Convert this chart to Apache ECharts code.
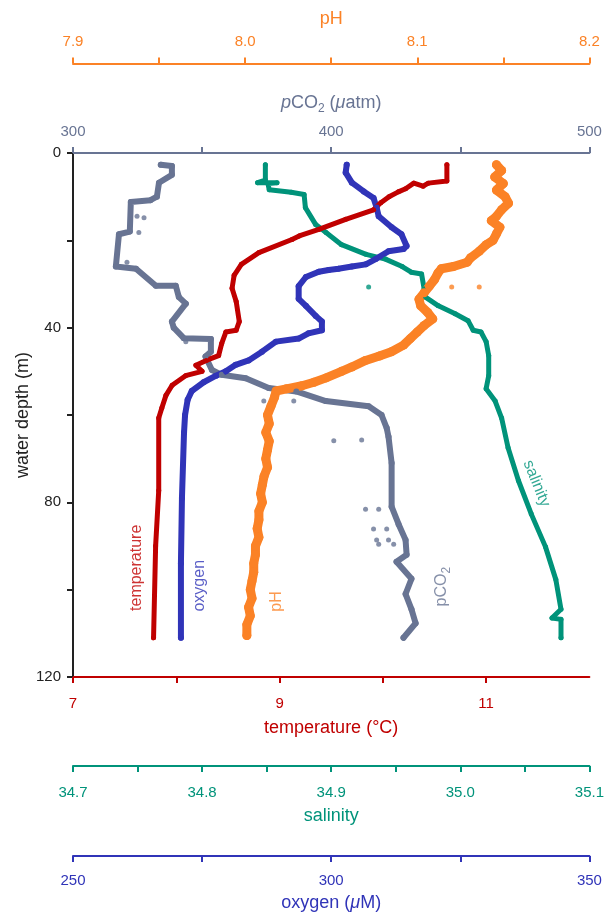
<!DOCTYPE html>
<html><head><meta charset="utf-8">
<script src="https://cdn.jsdelivr.net/npm/echarts@6/dist/echarts.min.js"></script>
<style>html,body{margin:0;padding:0;background:#fff;overflow:hidden}#c{width:607px;height:917px}</style>
</head><body><div id="c"></div>
<script>
// ---------- tick labels ----------
const depthTicks = [0, 40, 80, 120];
const pHTicks = [7.9, 8.0, 8.1, 8.2];
const pco2Ticks = [300, 400, 500];
const tempTicks = [7, 9, 11];
const tempMinorTicks = [7, 8, 9, 10, 11];
const salTicks = [34.7, 34.8, 34.9, 35.0, 35.1];
const oxyTicks = [250, 300, 350];

// ---------- temperature (°C) ----------
const tempDepth = [2.7, 6.4, 6.9, 7.6, 6.9, 8.2, 8.9, 10.0, 11.4, 13.0, 15.2, 17.5, 19.0, 19.8, 22.8, 25.5, 28.0, 31.0, 34.0, 38.6, 40.6, 41.0, 43.6, 46.4, 47.5, 48.6, 50.0, 51.0, 53.2, 55.5, 58.4, 60.7, 77.3, 90.0, 111.0];
const tempValue = [10.62, 10.62, 10.44, 10.39, 10.30, 10.22, 10.15, 10.06, 9.98, 9.91, 9.64, 9.38, 9.19, 9.12, 8.80, 8.63, 8.56, 8.54, 8.58, 8.61, 8.58, 8.48, 8.44, 8.41, 8.29, 8.19, 8.25, 8.09, 7.96, 7.90, 7.86, 7.83, 7.83, 7.80, 7.78];

// ---------- oxygen (µM) ----------
const oxyDepth = [2.7, 4.5, 6.8, 8.8, 10.3, 12.5, 14.5, 17.0, 18.6, 21.3, 22.0, 22.5, 24.3, 25.5, 26.0, 26.5, 26.8, 27.2, 28.4, 30.5, 33.4, 35.0, 37.3, 38.6, 40.6, 41.3, 42.5, 43.2, 45.5, 47.5, 48.5, 50.0, 51.0, 52.5, 54.5, 56.5, 60.0, 64.0, 79.0, 94.0, 111.0];
const oxyValue = [303.0, 302.8, 304.0, 306.3, 308.2, 308.8, 309.2, 311.7, 313.6, 314.6, 314.0, 311.1, 308.6, 306.7, 304.0, 301.4, 299.5, 297.6, 295.1, 293.7, 293.7, 295.1, 297.0, 298.2, 298.2, 295.6, 293.7, 289.3, 286.6, 284.0, 281.5, 279.6, 277.7, 275.3, 273.0, 272.2, 271.7, 271.5, 271.1, 270.9, 270.9];

// ---------- pH ----------
const pHDepth = [2.7, 4, 5.5, 7, 8.5, 10, 11.5, 13, 14.5, 15.5, 17, 18.5, 20, 21, 22.5, 24, 25, 26, 26.5, 27.5, 29, 30.5, 32, 33.5, 35, 36.5, 38, 39.5, 41, 42.5, 44, 45.5, 46.5, 47.5, 49, 50, 51.5, 52.5, 53.3, 54, 54.5, 56, 58, 60, 62, 64, 66, 68, 70, 72, 74, 76, 78, 80, 82, 84, 86, 88, 90, 92, 94, 96, 98, 100, 102, 104, 106, 108, 110.5];
const pHValue = [8.146, 8.149, 8.145, 8.150, 8.146, 8.151, 8.153, 8.149, 8.146, 8.143, 8.148, 8.146, 8.144, 8.140, 8.136, 8.131, 8.129, 8.121, 8.114, 8.112, 8.110, 8.107, 8.104, 8.101, 8.102, 8.106, 8.109, 8.104, 8.100, 8.096, 8.092, 8.085, 8.078, 8.070, 8.062, 8.056, 8.047, 8.040, 8.033, 8.024, 8.018, 8.017, 8.015, 8.013, 8.014, 8.012, 8.014, 8.013, 8.012, 8.013, 8.011, 8.010, 8.009, 8.010, 8.008, 8.008, 8.007, 8.008, 8.006, 8.006, 8.005, 8.005, 8.004, 8.003, 8.004, 8.002, 8.003, 8.001, 8.001];
const pHOutDepth = [30.7, 30.7];
const pHOutValue = [8.136, 8.120];

// ---------- pCO2 (µatm) ----------
const pco2Depth = [2.7, 3.0, 5.0, 6.8, 10.0, 10.8, 11.2, 18.0, 18.6, 26.0, 26.5, 30.4, 30.4, 33.0, 34.5, 38.6, 40.0, 42.4, 42.6, 45.5, 46.6, 49.7, 50.8, 51.6, 53.8, 54.6, 56.8, 58.0, 60.0, 63.0, 65.0, 71.0, 81.0, 85.0, 88.6, 92.0, 93.6, 97.5, 101.0, 104.5, 107.7, 111.0];
const pco2Value = [334.0, 338.3, 338.3, 333.3, 332.5, 330.0, 322.4, 322.0, 317.8, 316.6, 324.4, 332.1, 339.8, 341.0, 343.7, 338.3, 339.0, 342.9, 353.4, 353.4, 351.3, 353.8, 357.6, 366.9, 375.8, 386.5, 397.9, 414.5, 419.5, 421.5, 422.2, 423.4, 423.4, 426.1, 428.8, 429.2, 425.3, 431.1, 428.8, 431.1, 432.7, 428.0];
const pco2OutDepth = [14.5, 14.8, 18.2, 25.0, 43.2, 56.8, 56.8, 65.9, 65.7, 81.6, 81.6, 86.1, 86.1, 88.6, 88.6, 89.6, 89.6];
const pco2OutValue = [324.8, 327.5, 325.5, 320.9, 343.7, 373.9, 385.5, 401.0, 411.8, 413.3, 418.4, 416.4, 421.5, 417.6, 422.2, 418.4, 424.2];

// ---------- salinity ----------
const salDepth = [2.7, 6.2, 6.8, 6.8, 7.0, 8.4, 9.0, 9.5, 12.5, 16.4, 18.2, 21.0, 23.2, 24.3, 26.0, 27.3, 27.7, 31.1, 33.0, 35.0, 36.8, 38.4, 40.6, 41.0, 43.2, 46.4, 51.0, 54.0, 56.8, 60.7, 67.5, 75.0, 82.7, 90.2, 97.7, 104.5, 106.5, 106.8, 111.0];
const salValue = [34.849, 34.849, 34.843, 34.858, 34.851, 34.852, 34.869, 34.879, 34.880, 34.888, 34.896, 34.908, 34.927, 34.942, 34.955, 34.962, 34.970, 34.972, 34.973, 34.983, 34.996, 35.006, 35.010, 35.016, 35.020, 35.022, 35.022, 35.020, 35.027, 35.032, 35.037, 35.045, 35.055, 35.066, 35.074, 35.078, 35.071, 35.078, 35.078];
const salOutDepth = [30.7];
const salOutValue = [34.929];

// ---------- styling ----------
const C = {
  temp: '#c00000', oxy: '#3034b8', pH: '#fb8226', pco2: '#687493', sal: '#00937a', ink: '#222222'
};
const FONT = "'Liberation Sans', Arial, sans-serif";
const TITLE = 18;
const zip = (v, d) => v.map((x, i) => [x, d[i]]);

function xAxisDef(o) {
  return {
    type: 'value', position: o.pos, offset: o.offset, min: o.min, max: o.max, interval: o.interval,
    axisLine: { show: true, onZero: false, lineStyle: { color: o.color, width: 2 } },
    axisTick: Object.assign({ show: true, length: 6, lineStyle: { color: o.color, width: 2 } }, o.tickValues ? { customValues: o.tickValues } : {}),
    axisLabel: { color: o.color, fontSize: 15, fontFamily: FONT, margin: o.margin, customValues: o.labels, formatter: o.fmt, showMinLabel: true, showMaxLabel: true },
    splitLine: { show: false },
    name: o.name, nameLocation: 'middle', nameGap: o.nameGap,
    nameTextStyle: Object.assign({ color: o.color, fontSize: TITLE, fontFamily: FONT }, o.rich ? { rich: o.rich } : {})
  };
}

const subRich = (color) => ({
  n: { color: color, fontSize: TITLE, lineHeight: 24, fontFamily: FONT },
  i: { color: color, fontSize: TITLE, lineHeight: 24, fontStyle: 'italic', fontFamily: FONT },
  s: { color: color, fontSize: 12, lineHeight: 12, verticalAlign: 'bottom', fontFamily: FONT }
});

const option = {
  animation: false,
  backgroundColor: '#fff',
  textStyle: { fontFamily: FONT },
  grid: { left: 73, top: 153, width: 519, height: 528, containLabel: false },
  xAxis: [
    xAxisDef({ pos: 'bottom', offset: 0, min: 7, max: 12, interval: 1, color: C.temp, labels: tempTicks, tickValues: tempMinorTicks, margin: 19,
      fmt: v => ((v - 7) % 2 === 0 ? String(v) : ''), name: 'temperature (°C)', nameGap: 42 }),
    xAxisDef({ pos: 'bottom', offset: 89, min: 34.7, max: 35.1, interval: 0.05, color: C.sal, labels: salTicks, margin: 19,
      fmt: v => (Math.abs(v * 10 - Math.round(v * 10)) < 1e-6 ? v.toFixed(1) : ''), name: 'salinity', nameGap: 41 }),
    xAxisDef({ pos: 'bottom', offset: 179, min: 250, max: 350, interval: 25, color: C.oxy, labels: oxyTicks, margin: 17,
      fmt: v => (v % 50 === 0 ? String(v) : ''), name: '{n|oxygen (}{i|μ}{n|M)}', nameGap: 35, rich: subRich(C.oxy) }),
    xAxisDef({ pos: 'top', offset: 0, min: 300, max: 500, interval: 50, color: C.pco2, labels: pco2Ticks, margin: 14,
      fmt: v => (v % 100 === 0 ? String(v) : ''), name: '{i|p}{n|CO}{s|2}{n| (}{i|μ}{n|atm)}', nameGap: 38, rich: subRich(C.pco2) }),
    xAxisDef({ pos: 'top', offset: 89.5, min: 7.9, max: 8.2, interval: 0.05, color: C.pH, labels: pHTicks, margin: 14,
      fmt: v => (Math.abs(v * 10 - Math.round(v * 10)) < 1e-6 ? v.toFixed(1) : ''), name: 'pH', nameGap: 35 })
  ],
  yAxis: [{
    type: 'value', inverse: true, min: 0, max: 120, interval: 20, position: 'left',
    axisLine: { show: true, onZero: false, lineStyle: { color: C.ink, width: 2 } },
    axisTick: { show: true, length: 6, lineStyle: { color: C.ink, width: 2 } },
    axisLabel: { color: C.ink, fontSize: 15, margin: 12, customValues: depthTicks, formatter: v => (v % 40 === 0 ? String(v) : '') },
    splitLine: { show: false },
    name: 'water depth (m)', nameLocation: 'middle', nameGap: 41, nameMoveOverlap: false,
    nameTextStyle: { color: C.ink, fontSize: TITLE }
  }],
  series: []
};

function profile(name, xi, vals, depths, color, width) {
  return {
    name, type: 'line', xAxisIndex: xi, yAxisIndex: 0, data: zip(vals, depths),
    showSymbol: true, symbol: 'circle', symbolSize: width, itemStyle: { color },
    lineStyle: { color, width, cap: 'round', join: 'round' }, silent: true, z: 3
  };
}
function dots(xi, vals, depths, color, size) {
  return { type: 'scatter', xAxisIndex: xi, yAxisIndex: 0, data: zip(vals, depths), symbolSize: size, itemStyle: { color }, silent: true, z: 3 };
}
function label(xi, pos, text, color, rotate, rich) {
  return {
    type: 'scatter', xAxisIndex: xi, yAxisIndex: 0, data: [pos], symbol: 'circle', symbolSize: 2,
    itemStyle: { color: 'rgba(255,255,255,0)' }, silent: true, z: 5,
    label: Object.assign({ show: true, position: 'inside', formatter: text, color, fontSize: 16, fontFamily: FONT, rotate }, rich ? { rich } : {}),
    labelLayout: { hideOverlap: false }
  };
}

option.series.push(
  profile('pCO2', 3, pco2Value, pco2Depth, C.pco2, 6),
  dots(3, pco2OutValue, pco2OutDepth, C.pco2, 5),
  profile('salinity', 1, salValue, salDepth, C.sal, 5),
  dots(1, salOutValue, salOutDepth, C.sal, 5),
  profile('pH', 4, pHValue, pHDepth, C.pH, 9),
  dots(4, pHOutValue, pHOutDepth, C.pH, 5),
  profile('oxygen', 2, oxyValue, oxyDepth, C.oxy, 6),
  profile('temperature', 0, tempValue, tempDepth, C.temp, 5)
);

// in-plot series labels (anchored in data units)
const labelRichCO2 = {
  n: { color: C.pco2, fontSize: 16, lineHeight: 22, fontFamily: FONT },
  s: { color: C.pco2, fontSize: 12, lineHeight: 12, verticalAlign: 'bottom', fontFamily: FONT }
};
option.series.push(
  label(0, [7.62, 95.0], 'temperature', C.temp, 90),
  label(2, [274.6, 99.1], 'oxygen', C.oxy, 90),
  label(4, [8.018, 102.7], 'pH', C.pH, 90),
  label(3, [442.7, 99.3], '{n|pCO}{s|2}', C.pco2, 90, labelRichCO2),
  label(1, [35.059, 75.7], 'salinity', C.sal, -68)
);

const chart = echarts.init(document.getElementById('c'));
chart.setOption(option);
</script>
</body></html>
